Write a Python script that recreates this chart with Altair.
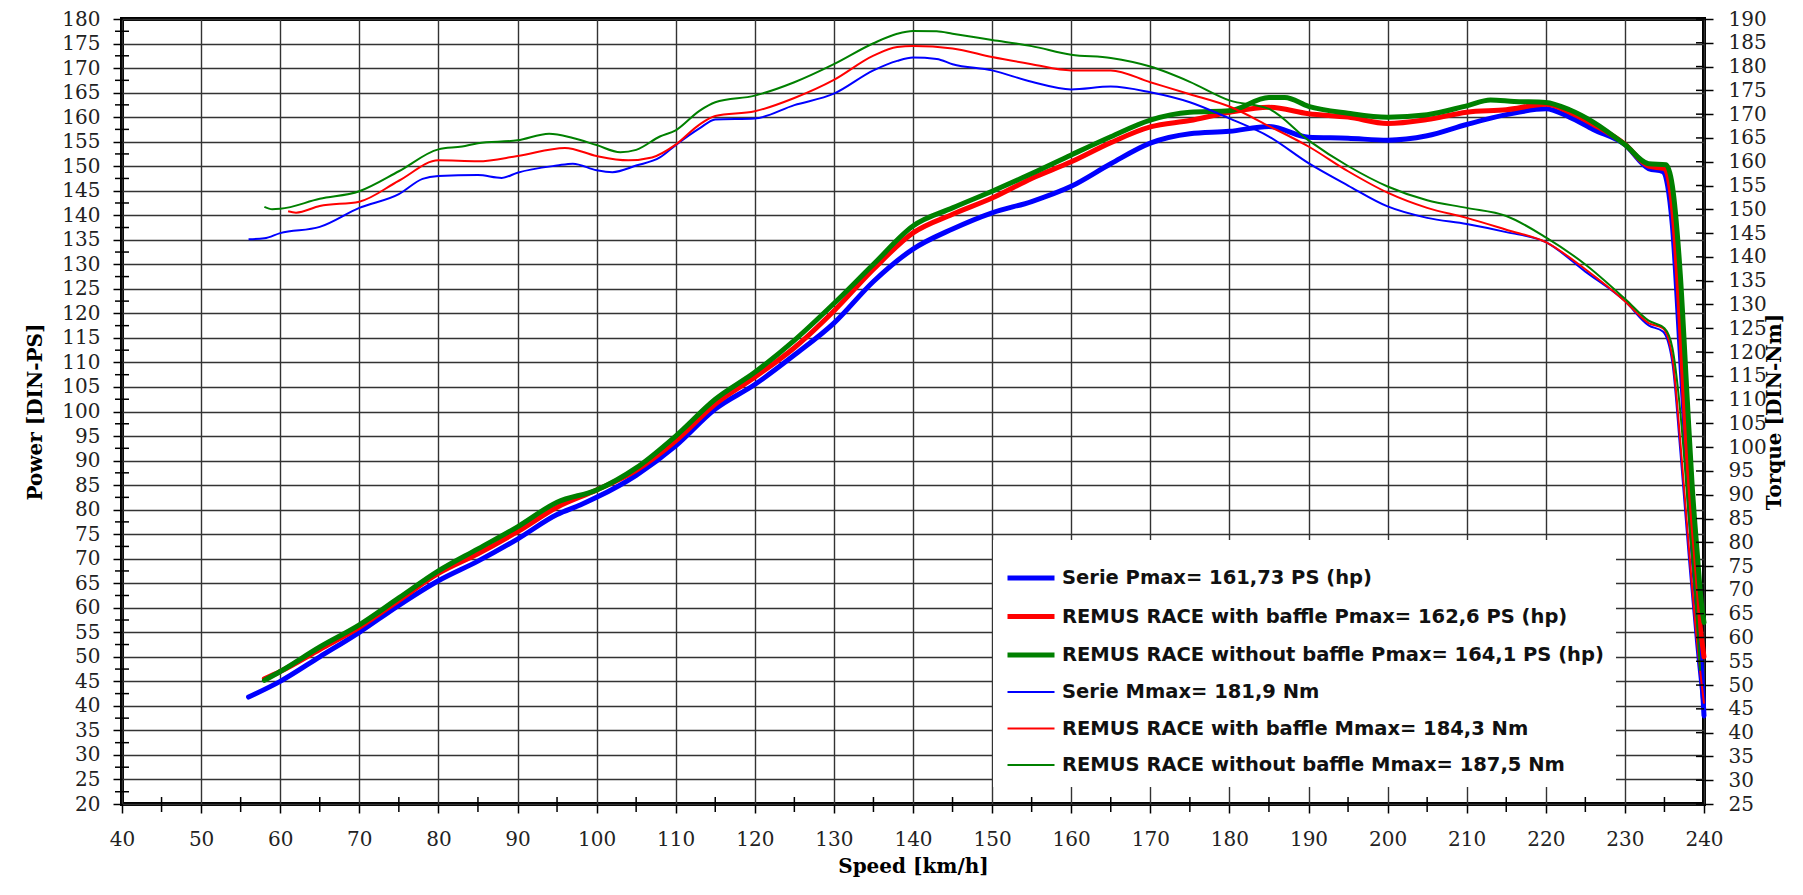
import altair as alt
import pandas as pd

# ---------------- data ----------------
SERIES = [
    "Serie Pmax= 161,73 PS (hp)",
    "REMUS RACE with baffle Pmax=  162,6 PS (hp)",
    "REMUS RACE without baffle Pmax= 164,1 PS (hp)",
    "Serie Mmax= 181,9 Nm",
    "REMUS RACE with baffle Mmax= 184,3 Nm",
    "REMUS RACE without baffle Mmax= 187,5 Nm",
]
COLORS = ["#0000FF", "#FF0000", "#008000", "#0000FF", "#FF0000", "#008000"]
WIDTHS = [5, 5, 5, 2, 2, 2]

# Power [DIN-PS] (left axis)
SERIE_P_KMH = [56, 60, 65, 70, 75, 80, 85, 90, 95, 98, 100, 105, 110, 115, 120, 125, 130, 135, 140, 145,
               150, 155, 160, 165, 170, 175, 180, 185, 190, 195, 200, 205, 210, 215, 220, 223, 226, 230, 233, 234.8,
               236, 237, 238.2, 239, 239.6, 240]
SERIE_P = [41.8, 45, 50, 55, 60.5, 65.5, 69.5, 74, 79, 81, 82.5, 87, 93, 100.5, 105.5, 111.5, 118, 126.5, 133.1, 137.2,
           140.5, 142.8, 145.9, 150.5, 154.7, 156.6, 157.1, 158.1, 155.9, 155.7, 155.3, 156.2, 158.5, 160.5, 161.7, 160, 157.5, 154.4, 149.5, 148.9,
           138, 112, 80, 62, 50, 38]

BAFFLE_P_KMH = [58, 60, 65, 70, 75, 80, 85, 90, 95, 100, 105, 110, 115, 120, 125, 130, 135, 140, 145, 150,
                155, 160, 165, 170, 175, 180, 185, 190, 195, 200, 205, 210, 215, 220, 223, 226, 230, 233, 235, 236,
                237, 237.5, 238.3, 239, 239.6, 240]
BAFFLE_P = [45.5, 47, 51.5, 56, 61.5, 67, 71, 75.5, 80.5, 84, 88, 94, 101.5, 107, 113, 120.5, 129, 136.4, 140.2, 143.5,
            147.5, 150.9, 154.8, 158, 159.3, 161, 162, 160.7, 160, 158.7, 159.5, 161, 161.5, 162.6, 161, 158.5, 154.5, 150, 149.5, 142,
            118, 102, 80, 65, 55, 50]

NOBAFFLE_P_KMH = [58, 60, 65, 70, 75, 80, 85, 90, 95, 100, 105, 110, 115, 120, 125, 130, 135, 140, 145, 150,
                  155, 160, 165, 170, 175, 180, 185, 187, 190, 195, 200, 205, 210, 213, 216, 220, 223, 226, 230, 233,
                  235.2, 236, 237, 237.9, 238.5, 239.2, 239.6, 240]
NOBAFFLE_P = [45.2, 47, 52, 56.5, 62, 67.5, 72, 76.5, 81.5, 84, 88.5, 95, 102.5, 108, 114.5, 122, 130, 137.8, 141.5, 144.9,
              148.5, 152.3, 156, 159.4, 161, 161.3, 164, 164, 162.2, 160.8, 160, 160.5, 162.3, 163.5, 163.2, 163, 161.5, 159, 154.4, 150.5,
              150.3, 146, 128, 102, 85, 70, 62, 57]

# Torque [DIN-Nm] (right axis)
SERIE_M_KMH = [56, 58, 60, 65, 70, 75, 78, 80, 85, 88, 90, 95, 97, 100, 102, 105, 108, 110, 113, 115,
               120, 125, 130, 135, 138, 140, 143, 145, 150, 155, 160, 165, 170, 175, 180, 185, 190, 195, 200, 205,
               210, 215, 220, 225, 230, 233, 234.8, 236, 237, 238, 239, 240]
SERIE_M = [143.7, 143.9, 145.0, 146.3, 150.3, 153.2, 156.4, 157.0, 157.2, 156.6, 157.7, 159.2, 159.6, 158.2, 157.8, 159.2, 160.9, 163.5, 167.0, 168.9,
           169.1, 171.9, 174.3, 179.2, 181.2, 181.9, 181.6, 180.5, 179.2, 176.8, 175.2, 175.8, 174.6, 172.5, 169.1, 165.3, 159.7, 155.0, 150.6, 148.2,
           146.9, 145.2, 143.1, 136.9, 130.7, 125.6, 124.3, 117.8, 99.3, 78.6, 59.0, 43.0]

BAFFLE_M_KMH = [61, 62, 65, 70, 75, 80, 85, 90, 96, 100, 104, 107, 110, 113, 115, 120, 125, 130, 135, 138,
                140, 145, 150, 155, 160, 165, 170, 175, 180, 185, 190, 195, 200, 205, 210, 215, 220, 225, 230, 233,
                234.8, 236, 237, 238, 239, 240]
BAFFLE_M = [149.6, 149.3, 150.7, 151.6, 156.0, 160.3, 160.1, 161.2, 162.9, 161.2, 160.3, 160.9, 163.6, 167.8, 169.6, 170.6, 173.4, 177.2, 182.3, 184.1,
            184.3, 183.8, 182.0, 180.5, 179.2, 179.2, 176.7, 174.2, 171.6, 167.5, 163.2, 158.0, 153.5, 150.3, 148.2, 145.7, 143.1, 137.4, 130.7, 126.1,
            125.0, 118.9, 101.3, 80.7, 61.1, 46.1]

NOBAFFLE_M_KMH = [58, 59, 60, 65, 70, 75, 80, 83, 85, 90, 94, 97, 100, 103, 105, 108, 110, 113, 115, 120,
                  125, 130, 135, 138, 140, 143, 145, 150, 155, 160, 165, 170, 175, 180, 185, 190, 195, 200, 205, 210,
                  215, 220, 225, 230, 233, 235, 236, 237, 238, 239, 239.5]
NOBAFFLE_M = [150.5, 150.0, 150.1, 152.2, 153.8, 158.0, 162.6, 163.2, 163.9, 164.5, 165.9, 165.0, 163.5, 162.0, 162.5, 165.3, 166.6, 170.7, 172.5, 173.9,
              176.7, 180.5, 184.9, 186.9, 187.5, 187.4, 186.9, 185.6, 184.3, 182.5, 181.8, 180.0, 176.8, 172.9, 171.1, 164.5, 159.1, 154.8, 151.9, 150.3,
              148.6, 144.1, 138.4, 131.2, 126.6, 125.0, 120.9, 107.5, 86.9, 66.3, 53.0]

# axis ticks
X_TICKS = list(range(40, 241, 10))
X_MINOR = list(range(45, 240, 10))
P_TICKS = list(range(20, 181, 5))
P_MINOR = [v + 2.5 for v in range(20, 180, 5)]
M_TICKS = list(range(25, 191, 5))

# ---------------- build tables ----------------
def frame(kmh, vals, name, col):
    return pd.DataFrame({"speed": kmh, col: vals, "series": name})

power_df = pd.concat([
    frame(SERIE_P_KMH, SERIE_P, SERIES[0], "power"),
    frame(BAFFLE_P_KMH, BAFFLE_P, SERIES[1], "power"),
    frame(NOBAFFLE_P_KMH, NOBAFFLE_P, SERIES[2], "power"),
])
power_df["order"] = range(len(power_df))
torque_df = pd.concat([
    frame(SERIE_M_KMH, SERIE_M, SERIES[3], "torque"),
    frame(BAFFLE_M_KMH, BAFFLE_M, SERIES[4], "torque"),
    frame(NOBAFFLE_M_KMH, NOBAFFLE_M, SERIES[5], "torque"),
])
torque_df["order"] = range(len(torque_df))

W, H = 1582, 785
SERIF = "DejaVu Serif"

legend = alt.Legend(title=None, orient="none", legendX=871, legendY=521)
COLOR = alt.Color("series:N", scale=alt.Scale(domain=SERIES, range=COLORS), legend=legend)
SW = alt.StrokeWidth("series:N", scale=alt.Scale(type="ordinal", domain=SERIES, range=WIDTHS), legend=legend)

X_ENC = alt.X("speed:Q", scale=alt.Scale(domain=[40, 240], nice=False, zero=False),
              axis=alt.Axis(values=X_TICKS, title="Speed [km/h]", grid=True, domain=False,
                            tickSize=9, labelPadding=16, labelFlush=False,
                            titleX=W / 2, titleY=62, titleAlign="center", titleBaseline="middle"))
Y_POW = alt.Y("power:Q", scale=alt.Scale(domain=[20, 180], nice=False, zero=False),
              axis=alt.Axis(values=P_TICKS, title="Power [DIN-PS]", grid=True, domain=False, orient="left",
                            tickSize=9, labelPadding=13, labelFlush=False,
                            titleX=-87, titleY=H / 2, titleAngle=270, titleAlign="center", titleBaseline="middle"))
Y_TOR = alt.Y("torque:Q", scale=alt.Scale(domain=[25, 190], nice=False, zero=False),
              axis=alt.Axis(values=M_TICKS, title="Torque [DIN-Nm]", grid=False, domain=False, orient="right",
                            tickSize=9, labelPadding=15, labelFlush=False,
                            titleX=70, titleY=H / 2, titleAngle=270, titleAlign="center", titleBaseline="middle"))

power_lines = alt.Chart(power_df).mark_line(interpolate="monotone", strokeCap="round").encode(
    x=X_ENC, y=Y_POW, color=COLOR, strokeWidth=SW, detail="series:N", order="order:Q")

x_minor = alt.Chart(pd.DataFrame({"speed": X_MINOR})).mark_rule(color="black", strokeWidth=1.5).encode(
    x=X_ENC, y=alt.value(H - 7), y2=alt.value(H + 8))
p_minor = alt.Chart(pd.DataFrame({"power": P_MINOR})).mark_rule(color="black", strokeWidth=1.5).encode(
    y=Y_POW, x=alt.value(-7), x2=alt.value(7))

torque_lines = alt.Chart(torque_df).mark_line(interpolate="monotone").encode(
    x=X_ENC, y=Y_TOR, color=COLOR, strokeWidth=SW, detail="series:N", order="order:Q")
m_inner = alt.Chart(pd.DataFrame({"torque": M_TICKS})).mark_rule(color="black", strokeWidth=1.5).encode(
    y=Y_TOR, x=alt.value(W - 8), x2=alt.value(W))

power_group = alt.layer(power_lines, x_minor, p_minor)
torque_group = alt.layer(torque_lines, m_inner)

chart = alt.layer(power_group, torque_group).resolve_scale(y="independent").properties(
    width=W, height=H,
    autosize=alt.AutoSizeParams(type="none"),
    padding={"left": 114, "top": 11, "right": 87, "bottom": 76},
    background="white",
).configure_view(
    stroke="black", strokeWidth=4
).configure_axis(
    gridColor="#333333", gridWidth=1.4, gridOpacity=1,
    tickColor="black", tickWidth=1.5,
    labelFont=SERIF, labelFontSize=20, labelColor="#222222",
    titleFont=SERIF, titleFontSize=20, titleFontWeight="bold", titleColor="black",
).configure_legend(
    fillColor="white", padding=12, rowPadding=2.5, symbolType="stroke", symbolSize=2209,
    labelFont="DejaVu Sans", labelFontSize=19.5, labelFontWeight="bold", labelColor="#111111",
    labelLimit=800, labelOffset=5,
)

chart.save("out.html", embed_options={"renderer": "svg", "actions": False})
